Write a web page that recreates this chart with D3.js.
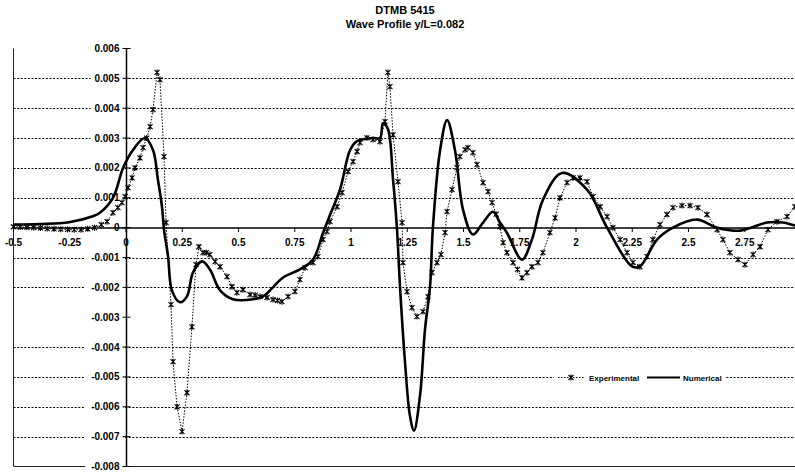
<!DOCTYPE html>
<html>
<head>
<meta charset="utf-8">
<script src="https://cdn.jsdelivr.net/npm/d3@7"></script>
<style>
  body { margin: 0; background: #fff; }
  svg { display: block; overflow: hidden; }
  text { font-family: "Liberation Sans", Arial, sans-serif; font-weight: bold; fill: #000; }
</style>
</head>
<body>
<div id="chart"></div>
<script>
// chart data
const titleLines = ["DTMB 5415", "Wave Profile y/L=0.082"];
const seriesNames = ["Experimental", "Numerical"];

const xTicks = [-0.5, -0.25, 0, 0.25, 0.5, 0.75, 1, 1.25, 1.5, 1.75, 2, 2.25, 2.5, 2.75];
const xTickLabels = ["-0.5", "-0.25", "0", "0.25", "0.5", "0.75", "1", "1.25", "1.5", "1.75", "2", "2.25", "2.5", "2.75"];
const yTicks = [0.006, 0.005, 0.004, 0.003, 0.002, 0.001, 0, -0.001, -0.002, -0.003, -0.004, -0.005, -0.006, -0.007, -0.008];
const yTickLabels = ["0.006", "0.005", "0.004", "0.003", "0.002", "0.001", "0", "-0.001", "-0.002", "-0.003", "-0.004", "-0.005", "-0.006", "-0.007", "-0.008"];
// the dotted grid has no line at 0.006, 0 (axis), -0.003 and -0.008
const gridValues = [0.005, 0.004, 0.003, 0.002, 0.001, -0.001, -0.002, -0.004, -0.005, -0.006, -0.007];

const expX = [-0.5, -0.47, -0.44, -0.41, -0.38, -0.35, -0.32, -0.29, -0.26, -0.23, -0.2, -0.17, -0.14, -0.11, -0.084,
  -0.058, -0.036, -0.018, -0.004, 0.009, 0.027, 0.04, 0.062, 0.076, 0.092, 0.107, 0.12, 0.138, 0.151, 0.169, 0.178,
  0.2, 0.209, 0.227, 0.249, 0.271, 0.293, 0.311, 0.324, 0.342, 0.357, 0.373, 0.396, 0.418, 0.449, 0.471, 0.493,
  0.52, 0.551, 0.574, 0.596, 0.627, 0.653, 0.673, 0.693, 0.72, 0.751, 0.773, 0.796, 0.831, 0.853, 0.876, 0.893,
  0.907, 0.938, 0.96, 0.987, 1.009, 1.027, 1.04, 1.071, 1.098, 1.129, 1.151, 1.164, 1.173, 1.187, 1.209, 1.227,
  1.231, 1.249, 1.271, 1.293, 1.32, 1.342, 1.36, 1.382, 1.4, 1.418, 1.427, 1.449, 1.471, 1.484, 1.507, 1.52,
  1.542, 1.56, 1.587, 1.609, 1.627, 1.645, 1.662, 1.676, 1.693, 1.72, 1.74, 1.76, 1.782, 1.804, 1.831, 1.853,
  1.884, 1.907, 1.929, 1.96, 1.987, 2.018, 2.049, 2.076, 2.107, 2.138, 2.164, 2.196, 2.227, 2.253, 2.284, 2.316,
  2.342, 2.373, 2.404, 2.431, 2.471, 2.507, 2.542, 2.582, 2.627, 2.653, 2.684, 2.72, 2.751, 2.787, 2.818, 2.853,
  2.893, 2.938, 2.973, 3.0];
const expY = [0.00003, 0.00002, 0.00001, 0, -0.00001, -0.00003, -0.00004, -0.00005, -0.00006, -0.00007, -0.00007, -0.00004, 0, 0.0001, 0.0002,
  0.0005, 0.00067, 0.00084, 0.00104, 0.00134, 0.00167, 0.002, 0.00234, 0.00268, 0.003, 0.00338, 0.00395, 0.0052, 0.00496, 0.00238, 0.00017,
  -0.00258, -0.00449, -0.006, -0.00683, -0.00553, -0.00332, -0.00124, -0.00064, -0.00084, -0.00084, -0.0009, -0.00114, -0.00131, -0.00164, -0.00198, -0.00218,
  -0.00208, -0.00224, -0.00226, -0.00231, -0.00234, -0.00241, -0.00244, -0.00248, -0.00231, -0.00214, -0.00174, -0.00134, -0.00117, -0.00097, -0.0004, -0.00013,
  0.0002, 0.0007, 0.00117, 0.00188, 0.00221, 0.00255, 0.00285, 0.00301, 0.00295, 0.00288, 0.00355, 0.0052, 0.00472, 0.00311, 0.00154, 0.00017,
  -0.00117, -0.00214, -0.00268, -0.00298, -0.00281, -0.00231, -0.00151, -0.00117, -0.0009, -0.00017, 0.00054, 0.00127, 0.00201, 0.00238, 0.00261, 0.00268,
  0.00251, 0.00211, 0.00151, 0.00121, 0.00084, 0.00045, 0.00003, -0.0005, -0.00084, -0.00117, -0.0014, -0.00168, -0.00151, -0.00131, -0.00117, -0.00084,
  -0.00017, 0.00033, 0.001, 0.00151, 0.00167, 0.00167, 0.00154, 0.00104, 0.0007, 0.00037, 0, -0.0004, -0.00084, -0.00117, -0.00131, -0.00097,
  -0.0004, 0.0001, 0.00044, 0.00067, 0.00074, 0.00074, 0.00067, 0.00044, -0.00007, -0.0004, -0.00084, -0.00107, -0.00124, -0.0009, -0.00064, -0.00007,
  0.0002, 0.00037, 0.0007, 0.001];

const numX = [-0.5, -0.382, -0.253, -0.151, -0.116, -0.058, -0.013, 0.031, 0.084, 0.12, 0.142, 0.16, 0.169,
  0.187, 0.204, 0.24, 0.271, 0.298, 0.338, 0.373, 0.418, 0.476, 0.564, 0.609, 0.653, 0.698, 0.773, 0.831, 0.876,
  0.907, 0.951, 0.996, 1.027, 1.098, 1.129, 1.142, 1.164, 1.187, 1.204,
  1.218, 1.24, 1.262, 1.28, 1.307, 1.329, 1.351, 1.364,
  1.396, 1.427, 1.462, 1.498, 1.542, 1.587, 1.631, 1.662, 1.693, 1.76, 1.804, 1.853, 1.938, 2.049, 2.138,
  2.249, 2.284, 2.36, 2.431, 2.538, 2.627, 2.729, 2.849, 2.92, 2.973, 3.0];
const numY = [0.0001, 0.00012, 0.00018, 0.00037, 0.0005, 0.001, 0.002, 0.0026, 0.003, 0.0026, 0.0016, 0.0007, -0.00007,
  -0.00097, -0.0021, -0.0025, -0.0023, -0.0015, -0.00113, -0.0014, -0.0021, -0.0024, -0.0024, -0.0023, -0.002, -0.00167, -0.0014, -0.00107, -0.00017,
  0.00043, 0.00127, 0.0026, 0.0029, 0.003, 0.003, 0.0035, 0.0033, 0.0016, 0,
  -0.002, -0.0045, -0.0063, -0.0068, -0.0056, -0.0034, -0.002, 0,
  0.0026, 0.0036, 0.0026, 0.0006, -0.00023, 0.00017, 0.00053, 0.00017, -0.00017, -0.00107, -0.0004, 0.00093, 0.00183, 0.00127, 0,
  -0.0013, -0.0013, -0.0004, 0, 0.00027, 0, -0.0001, 0.00017, 0.00017, 0.00007, 0.00005];

const width = 795, height = 474;
const plot = {left: 13.5, right: 801, top: 48.5, bottom: 466.5};

const svg = d3.select("#chart")
  .append("svg")
    .attr("width", width)
    .attr("height", height);

const x = d3.scaleLinear().domain([-0.5, 3]).range([plot.left, plot.right]);
const y = d3.scaleLinear().domain([-0.008, 0.006]).range([plot.bottom, plot.top]);

// title
svg.selectAll("text.title")
  .data(titleLines)
  .join("text")
    .attr("class", "title")
    .attr("x", 405)
    .attr("y", (d, i) => 14 + i * 14)
    .attr("text-anchor", "middle")
    .style("font-size", "11px")
    .text(d => d);

// frame (left and bottom)
svg.append("path")
  .attr("d", `M${plot.left},${plot.top}V${plot.bottom}H${plot.right}`)
  .attr("fill", "none")
  .attr("stroke", "#222")
  .attr("stroke-width", 1);

// dotted gridlines
svg.append("g")
  .selectAll("line")
  .data(gridValues)
  .join("line")
    .attr("x1", plot.left)
    .attr("x2", width)
    .attr("y1", d => Math.round(y(d)) + 0.5)
    .attr("y2", d => Math.round(y(d)) + 0.5)
    .attr("stroke", "#000")
    .attr("stroke-width", 1.2)
    .attr("stroke-dasharray", "2,1.6");

const x0 = Math.round(x(0)) + 0.5;
const y0 = Math.round(y(0));

// y tick labels with white boxes that cut the grid
const yLab = svg.append("g");
yTicks.forEach((v, i) => {
  const lab = yTickLabels[i];
  const w = lab.length * 5.4;
  yLab.append("rect")
    .attr("x", x0 - 8 - w - 1)
    .attr("y", y(v) - 5)
    .attr("width", w + 6)
    .attr("height", 10)
    .attr("fill", "#fff");
  yLab.append("text")
    .attr("x", x0 - 7)
    .attr("y", y(v) + 3.5)
    .attr("text-anchor", "end")
    .style("font-size", "10px")
    .text(lab);
});

// y axis line and cross ticks
svg.append("line")
  .attr("x1", x0).attr("x2", x0)
  .attr("y1", plot.top).attr("y2", plot.bottom)
  .attr("stroke", "#000")
  .attr("stroke-width", 1.5);
svg.append("g")
  .selectAll("line")
  .data(yTicks)
  .join("line")
    .attr("x1", x0 - 4).attr("x2", x0 + 4)
    .attr("y1", d => y(d)).attr("y2", d => y(d))
    .attr("stroke", "#000");

// x axis (zero line), ticks and labels
svg.append("line")
  .attr("x1", plot.left).attr("x2", width)
  .attr("y1", y0).attr("y2", y0)
  .attr("stroke", "#000")
  .attr("stroke-width", 1.6);
svg.append("g")
  .selectAll("line")
  .data(xTicks)
  .join("line")
    .attr("x1", d => x(d)).attr("x2", d => x(d))
    .attr("y1", y0).attr("y2", y0 + 4)
    .attr("stroke", "#000");
svg.append("g")
  .selectAll("text")
  .data(xTicks)
  .join("text")
    .attr("x", d => x(d))
    .attr("y", y0 + 18)
    .attr("text-anchor", "middle")
    .style("font-size", "10px")
    .text((d, i) => xTickLabels[i]);

// experimental: dotted line with star markers
const expData = expX.map((d, i) => ({x: d, y: expY[i]}));
const numData = numX.map((d, i) => ({x: d, y: numY[i]}));

svg.append("path")
  .datum(expData)
  .attr("fill", "none")
  .attr("stroke", "#000")
  .attr("stroke-width", 1)
  .attr("stroke-dasharray", "1.5,1.5")
  .attr("d", d3.line().x(d => x(d.x)).y(d => y(d.y)));

const star = "M-2.5,-2.5L2.5,2.5M-2.5,2.5L2.5,-2.5M0,-3L0,3";
svg.append("g")
  .selectAll("path")
  .data(expData)
  .join("path")
    .attr("transform", d => `translate(${x(d.x)},${y(d.y)})`)
    .attr("d", star)
    .attr("fill", "none")
    .attr("stroke", "#000")
    .attr("stroke-width", 1.1);

// numerical: thick solid line
svg.append("path")
  .datum(numData)
  .attr("fill", "none")
  .attr("stroke", "#000")
  .attr("stroke-width", 2.6)
  .attr("stroke-linejoin", "round")
  .attr("d", d3.line().curve(d3.curveCatmullRom.alpha(0.5)).x(d => x(d.x)).y(d => y(d.y)));

// legend
const ly = Math.round(y(-0.005)) + 0.5;
const legend = svg.append("g");
legend.append("rect")
  .attr("x", 554).attr("y", ly - 7)
  .attr("width", 172).attr("height", 14)
  .attr("fill", "#fff");
legend.append("line")
  .attr("x1", 558).attr("x2", 585)
  .attr("y1", ly).attr("y2", ly)
  .attr("stroke", "#000")
  .attr("stroke-dasharray", "1.5,1.5");
legend.append("path")
  .attr("transform", `translate(571,${ly})`)
  .attr("d", star)
  .attr("fill", "none")
  .attr("stroke", "#000")
  .attr("stroke-width", 1.1);
legend.append("text")
  .attr("x", 589).attr("y", ly + 3)
  .style("font-size", "8px")
  .text(seriesNames[0]);
legend.append("line")
  .attr("x1", 647).attr("x2", 680)
  .attr("y1", ly).attr("y2", ly)
  .attr("stroke", "#000")
  .attr("stroke-width", 2);
legend.append("text")
  .attr("x", 683).attr("y", ly + 3)
  .style("font-size", "8px")
  .text(seriesNames[1]);
</script>
</body>
</html>
